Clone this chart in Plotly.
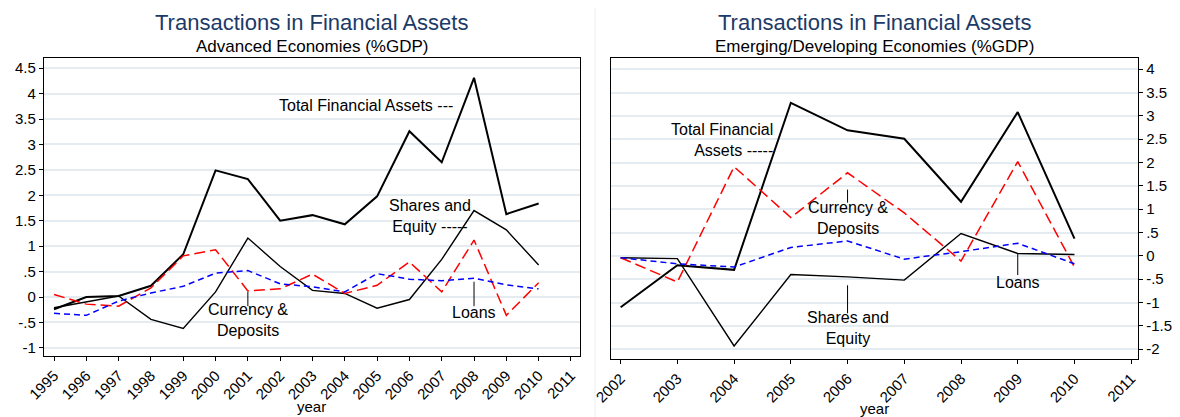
import plotly.graph_objects as go

# ---------------- data ----------------
years_adv = list(range(1995, 2011))
adv_total = [-0.24, 0.00, 0.02, 0.22, 0.84, 2.49, 2.32, 1.50, 1.61, 1.43, 1.98, 3.26, 2.65, 4.31, 1.63, 1.84]
adv_shares = [-0.21, -0.10, 0.02, -0.44, -0.62, 0.10, 1.16, 0.60, 0.13, 0.07, -0.22, -0.05, 0.74, 1.70, 1.32, 0.63]
adv_currency = [0.05, -0.14, -0.18, 0.18, 0.81, 0.93, 0.12, 0.16, 0.45, 0.07, 0.23, 0.69, 0.10, 1.12, -0.36, 0.28]
adv_loans = [-0.32, -0.36, -0.08, 0.08, 0.21, 0.47, 0.52, 0.26, 0.20, 0.10, 0.46, 0.35, 0.32, 0.37, 0.24, 0.16]

years_em = list(range(2002, 2011))
em_total = [-1.10, -0.20, -0.30, 3.28, 2.69, 2.51, 1.16, 3.08, 0.37]
em_shares = [-0.04, -0.06, -1.93, -0.40, -0.45, -0.52, 0.48, 0.05, 0.03]
em_currency = [-0.04, -0.56, 1.91, 0.82, 1.78, 0.92, -0.11, 2.02, -0.24]
em_loans = [-0.04, -0.17, -0.24, 0.18, 0.32, -0.07, 0.09, 0.27, -0.17]

xticks_adv = list(range(1995, 2012))
xticks_em = list(range(2002, 2012))
yticks_adv = [-1, -0.5, 0, 0.5, 1, 1.5, 2, 2.5, 3, 3.5, 4, 4.5]
yticks_em = [-2, -1.5, -1, -0.5, 0, 0.5, 1, 1.5, 2, 2.5, 3, 3.5, 4]


def fmt(v):
    s = ("%g" % v)
    if s.startswith("0."):
        s = s[1:]
    elif s.startswith("-0."):
        s = "-" + s[2:]
    return s


FONT = "Liberation Sans, Arial, sans-serif"
TITLE_COLOR = "#1c3a68"
GRID = "#e4ecf1"
OFF = 8  # page body margin
W, H = 1180 - OFF, 417 - OFF


def px(x):
    return (x - OFF) / W


def py(y):
    return 1 - (y - OFF) / H


L1, R1 = 44, 580
L2, R2 = 611, 1138

fig = go.Figure()


def add_series(x, total, shares, cur, loans, xa, ya):
    fig.add_trace(go.Scatter(x=x, y=total, mode="lines", xaxis=xa, yaxis=ya,
                             line=dict(color="black", width=2), showlegend=False))
    fig.add_trace(go.Scatter(x=x, y=shares, mode="lines", xaxis=xa, yaxis=ya,
                             line=dict(color="black", width=1.4), showlegend=False))
    fig.add_trace(go.Scatter(x=x, y=cur, mode="lines", xaxis=xa, yaxis=ya,
                             line=dict(color="#ff0000", width=1.5, dash="11px,5px"), showlegend=False))
    fig.add_trace(go.Scatter(x=x, y=loans, mode="lines", xaxis=xa, yaxis=ya,
                             line=dict(color="#0000ff", width=1.5, dash="6px,4px"), showlegend=False))


add_series(years_adv, adv_total, adv_shares, adv_currency, adv_loans, "x", "y")
add_series(years_em, em_total, em_shares, em_currency, em_loans, "x2", "y2")

axis_common = dict(showline=True, linecolor="black", linewidth=1.3, mirror=True,
                   ticks="outside", ticklen=4, tickcolor="black", tickwidth=1,
                   tickfont=dict(family=FONT, size=15, color="black"), zeroline=False,
                   automargin=False)

fig.update_layout(
    width=W, height=H,
    margin=dict(l=0, r=0, t=0, b=0),
    paper_bgcolor="white", plot_bgcolor="white",
    font=dict(family=FONT, color="black"),
    xaxis=dict(domain=[px(L1), px(R1)], range=[1994.69, 2011.28], tickvals=xticks_adv,
               ticktext=[str(v) for v in xticks_adv], tickangle=-45, showgrid=False,
               anchor="y", **axis_common),
    yaxis=dict(domain=[py(356), py(58)], range=[-1.16, 4.70], tickvals=yticks_adv,
               ticktext=[fmt(v) for v in yticks_adv], showgrid=True, gridcolor=GRID, gridwidth=1.5,
               anchor="x", side="left", **axis_common),
    xaxis2=dict(domain=[px(L2), px(R2)], range=[2001.83, 2011.12], tickvals=xticks_em,
                ticktext=[str(v) for v in xticks_em], tickangle=-45, showgrid=False,
                anchor="y2", **axis_common),
    yaxis2=dict(domain=[py(359), py(58)], range=[-2.21, 4.24], tickvals=yticks_em,
                ticktext=[fmt(v) for v in yticks_em], showgrid=True, gridcolor=GRID, gridwidth=1.5,
                anchor="x2", side="right", **axis_common),
)

annotations = []
# titles
for cx, sub in [(px((L1 + R1) / 2), "Advanced Economies (%GDP)"),
                (px((L2 + R2) / 2), "Emerging/Developing Economies (%GDP)")]:
    annotations.append(dict(text="Transactions in Financial Assets", x=cx, y=py(22),
                            xref="paper", yref="paper", showarrow=False, xanchor="center",
                            yanchor="middle", font=dict(family=FONT, size=22, color=TITLE_COLOR)))
    annotations.append(dict(text=sub, x=cx, y=py(47), xref="paper", yref="paper",
                            showarrow=False, xanchor="center", yanchor="middle",
                            font=dict(family=FONT, size=17, color="black")))
# x axis titles
for cx, yy in [(px((L1 + R1) / 2), 406), (px((L2 + R2) / 2), 408)]:
    annotations.append(dict(text="year", x=cx, y=py(yy), xref="paper", yref="paper",
                            showarrow=False, xanchor="center", yanchor="middle",
                            font=dict(family=FONT, size=15, color="black")))

# series labels (text, x, y, xanchor, align, axes)
labels = [
    ("Total Financial Assets ---", 2007.41, 3.76, "right", "right", "x", "y"),
    ("Shares and<br>Equity -----", 2006.64, 1.59, "center", "center", "x", "y"),
    ("Currency &<br>Deposits", 2001.0, -0.46, "center", "center", "x", "y"),
    ("Loans", 2008.0, -0.31, "center", "center", "x", "y"),
    ("Total Financial<br>Assets -----", 2004.72, 2.49, "right", "right", "x2", "y2"),
    ("Currency &<br>Deposits", 2006.0, 0.82, "center", "center", "x2", "y2"),
    ("Shares and<br>Equity", 2006.0, -1.55, "center", "center", "x2", "y2"),
    ("Loans", 2009.0, -0.56, "center", "center", "x2", "y2"),
]
for t, x, y, xa, al, xr, yr in labels:
    annotations.append(dict(text=t, x=x, y=y, xref=xr, yref=yr, showarrow=False,
                            xanchor=xa, yanchor="middle", align=al,
                            font=dict(family=FONT, size=16, color="black")))

fig.update_layout(annotations=annotations)

# small pointer ticks for labels (x, y0, y1, axes)
pointers = [
    (2001.0, 0.10, -0.18, "x", "y"),
    (2008.0, 0.30, -0.18, "x", "y"),
    (2006.0, 1.42, 1.14, "x2", "y2"),
    (2006.0, -0.63, -1.23, "x2", "y2"),
    (2009.0, 0.05, -0.41, "x2", "y2"),
]
shapes = []
for x, y0, y1, xr, yr in pointers:
    shapes.append(dict(type="line", x0=x, x1=x, y0=y0, y1=y1, xref=xr, yref=yr,
                       line=dict(color="black", width=1)))
# panel separator
shapes.append(dict(type="line", x0=px(595), x1=px(595), y0=0, y1=1, xref="paper", yref="paper",
                   line=dict(color="#e6eff2", width=1)))
fig.update_layout(shapes=shapes)

fig.write_html("out.html")
